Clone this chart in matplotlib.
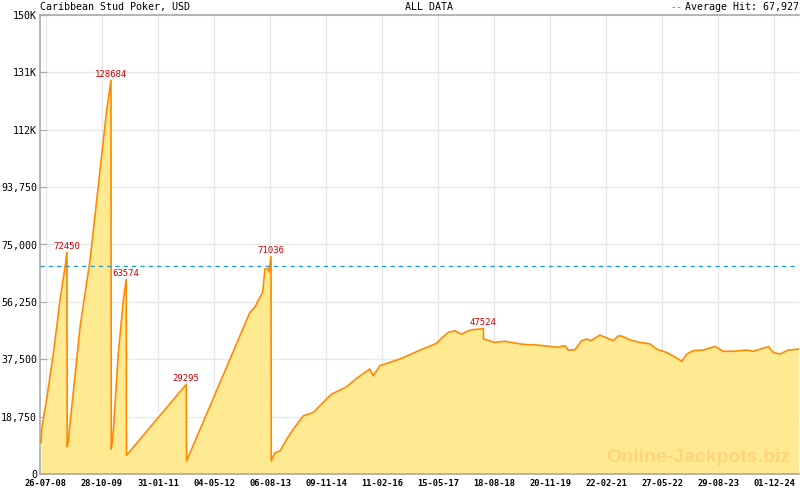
import numpy as np
import matplotlib
matplotlib.use("Agg")
import matplotlib.pyplot as plt
import matplotlib.dates as mdates
from matplotlib.ticker import FixedLocator

# jackpot history
dates = ["2008-06-15", "2008-06-23", "2008-08-03", "2008-09-24", "2008-11-18", "2008-12-29",
         "2009-01-14", "2009-01-16", "2009-01-26", "2009-02-08", "2009-05-01", "2009-07-22",
         "2009-10-12", "2009-12-06", "2010-01-10", "2010-01-12", "2010-01-21", "2010-01-29",
         "2010-03-11", "2010-04-21", "2010-05-15", "2010-05-17", "2011-09-19", "2011-09-22",
         "2013-02-22", "2013-04-04", "2013-04-23", "2013-06-07", "2013-06-25", "2013-07-23",
         "2013-07-28", "2013-08-14", "2013-08-16", "2013-09-16", "2013-10-27", "2013-12-21",
         "2014-02-12", "2014-05-06", "2014-07-27", "2014-11-13", "2014-12-24", "2015-04-26",
         "2015-06-06", "2015-07-18", "2015-11-03", "2015-11-30", "2016-01-24", "2016-04-15",
         "2016-07-07", "2016-09-27", "2016-12-18", "2017-05-03", "2017-06-14", "2017-08-07",
         "2017-09-30", "2017-11-24", "2018-01-17", "2018-02-14", "2018-05-21", "2018-05-23",
         "2018-08-25", "2018-11-10", "2019-02-18", "2019-05-01", "2019-07-04", "2019-09-10",
         "2019-11-19", "2020-01-20", "2020-03-21", "2020-04-17", "2020-06-10", "2020-08-04",
         "2020-09-14", "2020-10-20", "2021-01-01", "2021-04-20", "2021-05-31", "2021-06-28",
         "2021-09-04", "2021-11-25", "2022-02-15", "2022-04-11", "2022-07-02", "2022-09-23",
         "2022-11-02", "2022-12-14", "2023-02-05", "2023-04-28", "2023-08-02", "2023-10-10",
         "2023-12-30", "2024-04-18", "2024-06-11", "2024-10-13", "2024-11-23", "2025-01-16",
         "2025-03-26", "2025-06-15"]
values = [10250, 15200, 25000, 39200, 56700, 67600,
          72450, 8900, 10800, 16300, 47900, 69800,
          99200, 118900, 128684, 8200, 10800, 14100,
          39200, 56700, 63574, 6100, 29295, 4260,
          52800, 54500, 56100, 59400, 67000, 67000,
          66000, 71036, 4260, 7000, 7500, 11400,
          14600, 19000, 20100, 24500, 26100, 28500,
          29900, 31300, 34300, 32100, 35400, 36500,
          37600, 39000, 40500, 42700, 44400, 46300,
          46800, 45700, 46800, 47100, 47524, 44100,
          43000, 43400, 42700, 42300, 42250, 42000,
          41700, 41400, 41900, 40500, 40600, 43560,
          44100, 43600, 45400, 43560, 45100, 45100,
          43800, 43000, 42500, 40800, 39700, 37900,
          36800, 39200, 40300, 40500, 41700, 40100,
          40100, 40500, 40100, 41600, 39700, 39200,
          40500, 40800]

peak_dates = ["2009-01-14", "2010-01-10", "2010-05-15", "2011-09-19", "2013-08-14", "2018-05-21"]
peak_values = [72450, 128684, 63574, 29295, 71036, 47524]
average_hit = 67927

ytick_values = [0, 18750, 37500, 56250, 75000, 93750, 112500, 131250, 150000]
ytick_labels = ["0", "18,750", "37,500", "56,250", "75,000", "93,750", "112K", "131K", "150K"]
xtick_dates = ["2008-07-26", "2009-10-28", "2011-01-31", "2012-05-04", "2013-08-06",
               "2014-11-09", "2016-02-11", "2017-05-15", "2018-08-18", "2019-11-20",
               "2021-02-22", "2022-05-27", "2023-08-29", "2024-12-01"]

x = mdates.datestr2num(dates)
px = mdates.datestr2num(peak_dates)
xt = mdates.datestr2num(xtick_dates)

mono = "DejaVu Sans Mono"
line_col = "#ff8a00"
fill_col = "#ffea91"
avg_col = "#1a9fd0"

fig = plt.figure(figsize=(8, 4.9), dpi=100)
ax = fig.add_axes([40 / 800, 1 - 474 / 490, 759 / 800, (474 - 15) / 490])

ax.fill_between(x, values, 0, color=fill_col, lw=0, zorder=2)
ax.plot(x, values, color=line_col, lw=1.2, zorder=3)
ax.axhline(average_hit, color=avg_col, lw=1.0, ls=(0, (3, 3)), zorder=4)

for d, v in zip(px, peak_values):
    ax.annotate(str(v), (d, v), xytext=(0, 1), textcoords="offset points",
                ha="center", va="bottom", color="#cc0000", fontsize=6.5,
                family=mono, zorder=5)

ax.set_xlim(mdates.datestr2num("2008-06-07"), mdates.datestr2num("2025-06-21"))
ax.set_ylim(0, 150000)

ax.set_yticks(ytick_values)
ax.set_yticklabels(ytick_labels, family=mono, fontsize=7.2)
ax.xaxis.set_major_locator(FixedLocator(xt))
ax.xaxis.set_major_formatter(mdates.DateFormatter("%d-%m-%y"))
step = np.diff(xt).mean() / 7
minor = np.arange(xt[0] - 7 * step, xt[-1] + 7 * step, step)
ax.xaxis.set_minor_locator(FixedLocator(minor))
for lab in ax.get_xticklabels():
    lab.set_family(mono)
    lab.set_fontsize(6.3)
    lab.set_fontweight("bold")

ax.tick_params(axis="both", which="major", direction="in", length=5, color="#aaaaaa", pad=2)
ax.tick_params(axis="x", which="major", pad=3.5)
ax.tick_params(axis="x", which="minor", direction="in", length=3, color="#aaaaaa")
ax.grid(True, which="major", color="#e8e8e8", lw=1, zorder=0)
ax.set_axisbelow(True)
for side in ["left", "top", "bottom"]:
    ax.spines[side].set_color("#aaaaaa")
    ax.spines[side].set_linewidth(1.2)
ax.spines["right"].set_visible(False)

fig.text(40 / 800, 1 - 7 / 490, "Caribbean Stud Poker, USD", family=mono, fontsize=7.2,
         va="center", ha="left")
fig.text(405 / 800, 1 - 7 / 490, "ALL DATA", family=mono, fontsize=7.2, va="center", ha="left")
fig.text(799 / 800, 1 - 7 / 490, "Average Hit: 67,927", family=mono, fontsize=7.2,
         va="center", ha="right")
fig.text(682 / 800, 1 - 7 / 490, "--", family=mono, fontsize=7.2, va="center",
         ha="right", color=avg_col)

ax.text(0.868, 0.017, "Online-Jackpots.biz", transform=ax.transAxes, ha="center",
        va="bottom", fontsize=14, fontweight="bold", family="Liberation Sans",
        color="#ffd47c", zorder=6)

fig.savefig("out.png", dpi=100)
